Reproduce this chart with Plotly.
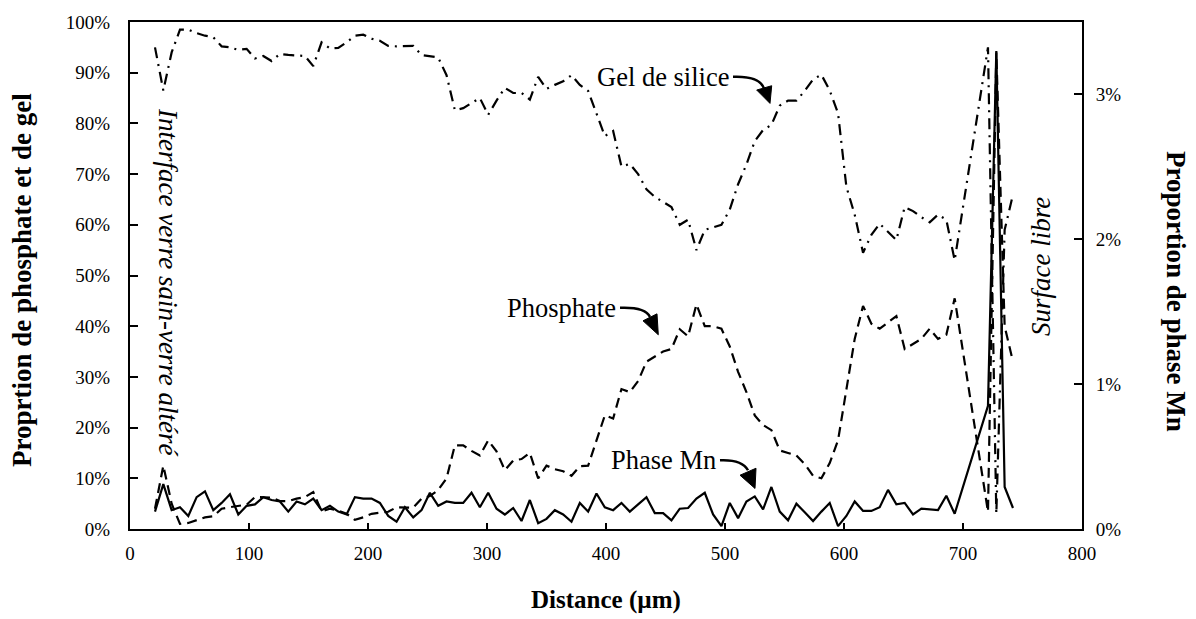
import plotly.graph_objects as go

# ---------------- data ----------------
distance_um = [21, 28, 35, 42, 49, 56, 63, 70, 77, 84,
               91, 98, 105, 112, 119, 126, 133, 140, 147, 154,
               161, 168, 175, 182, 189, 196, 203, 210, 217, 224,
               231, 238, 245, 252, 259, 266, 273, 280, 287, 294,
               301, 308, 315, 322, 329, 336, 343, 350, 357, 364,
               371, 378, 385, 392, 399, 406, 413, 420, 427, 434,
               441, 448, 455, 462, 469, 476, 483, 490, 497, 504,
               511, 518, 525, 532, 539, 546, 553, 560, 567, 574,
               581, 588, 595, 602, 609, 616, 623, 630, 637, 644,
               651, 658, 665, 672, 679, 686, 693,
               721, 728, 735, 742]

gel_silice = [95, 86.5, 94, 98.5, 98.5, 97.8, 97.3, 97, 95.2, 95,
              94.5, 94.7, 92.8, 93.3, 92.3, 93.7, 93.5, 93.4, 93.3, 91.3,
              96, 94.8, 94.9, 96, 97.3, 97.5, 96.7, 96.3, 95.3, 95.2,
              95.2, 95.3, 93.5, 93.3, 93, 89.5, 82.6, 83, 84, 85,
              81.7, 84.5, 87, 86, 86, 84.7, 89.2, 86.8, 87.6, 88.3,
              89.5, 87.6, 86.4, 82, 77.5, 78.5, 71.5, 72, 70, 67,
              65.5, 64.5, 63.5, 60, 61, 55, 59, 59.5, 60, 63,
              68, 71.9, 76.5, 78.7, 79.7, 83.5, 84.5, 84.5, 86.4, 88.7,
              89.6, 86.5, 82, 67.5, 62, 54.5, 58, 60.2, 58.5, 57,
              63.5, 62.7, 61.5, 60.5, 62, 61, 53,
              95, 3, 59, 66]

phosphate = [4, 12.5, 5, 1, 1.2, 1.8, 2.3, 2.5, 4, 4.3,
             4.5, 4.8, 6.3, 6.3, 6.2, 5.5, 5.5, 6, 6.3, 7.3,
             3.5, 4, 3.6, 3, 1.8, 2.3, 3, 3.2, 3.4, 4.3,
             4.2, 4.2, 6, 6.5, 7.7, 10, 16.5, 16.5, 15.4, 14.5,
             17.5, 15.3, 11.6, 13.5, 13.8, 15, 10, 12.5, 11.8, 11.4,
             10.5, 12.4, 12.5, 17.5, 22.4, 21.8, 27.6, 27, 29.2, 33,
             34, 35, 35.5, 39.4, 38, 44.3, 40, 40, 39.5, 36,
             31, 27, 22.4, 20.5, 19.5, 15.5, 15, 14.5, 12.8, 10.5,
             10, 13, 17.5, 27.5, 37.5, 44, 40.5, 39.5, 40.8, 42,
             35.5, 36.5, 37.5, 39.5, 37.5, 38.3, 45.5,
             3.4, 94, 40, 33]

phase_mn = [0.12, 0.31, 0.13, 0.15, 0.09, 0.22, 0.26, 0.13, 0.18, 0.24,
            0.10, 0.16, 0.17, 0.22, 0.20, 0.19, 0.12, 0.19, 0.17, 0.21,
            0.13, 0.16, 0.12, 0.10, 0.22, 0.21, 0.21, 0.18, 0.09, 0.05,
            0.15, 0.08, 0.13, 0.25, 0.16, 0.19, 0.18, 0.18, 0.25, 0.15,
            0.25, 0.14, 0.10, 0.145, 0.055, 0.20, 0.04, 0.07, 0.13, 0.10,
            0.05, 0.18, 0.12, 0.245, 0.15, 0.13, 0.18, 0.12, 0.17, 0.22,
            0.11, 0.11, 0.06, 0.14, 0.145, 0.21, 0.25, 0.10, 0.02, 0.18,
            0.075, 0.19, 0.225, 0.135, 0.29, 0.12, 0.06, 0.175, 0.115, 0.055,
            0.12, 0.18, 0.02, 0.09, 0.19, 0.125, 0.125, 0.15, 0.27, 0.17,
            0.18, 0.10, 0.14, 0.135, 0.13, 0.23, 0.105,
            0.85, 3.30, 0.29, 0.145]

x_ticks = [0, 100, 200, 300, 400, 500, 600, 700, 800]
y_left_ticks = [0, 10, 20, 30, 40, 50, 60, 70, 80, 90, 100]
y_left_labels = ["0%", "10%", "20%", "30%", "40%", "50%", "60%", "70%", "80%", "90%", "100%"]
y_right_ticks = [0, 1, 2, 3]
y_right_labels = ["0%", "1%", "2%", "3%"]

# ---------------- layout geometry (pixels) ----------------
W_FIG, H_FIG = 1196, 619
L, R, T, B = 130, 1082, 20, 529
PW, PH = R - L, B - T


def px(x):
    return (x - L) / PW


def py(y):
    return (B - y) / PH


FONT = "Liberation Serif"

fig = go.Figure()
fig.add_trace(go.Scatter(x=distance_um, y=gel_silice, mode="lines", name="Gel de silice",
                         line=dict(color="black", width=2.2, dash="11px,6px,2px,6px")))
fig.add_trace(go.Scatter(x=distance_um, y=phosphate, mode="lines", name="Phosphate",
                         line=dict(color="black", width=2.2, dash="10px,6px")))
fig.add_trace(go.Scatter(x=distance_um, y=phase_mn, mode="lines", name="Phase Mn", yaxis="y2",
                         line=dict(color="black", width=2.2)))

axis_common = dict(showline=True, linecolor="black", linewidth=2, showgrid=False, zeroline=False,
                   ticks="inside", tickcolor="black", tickwidth=2,
                   tickfont=dict(family=FONT, size=19, color="black"))

fig.update_layout(
    width=W_FIG, height=H_FIG,
    margin=dict(l=L, r=W_FIG - R, t=T, b=H_FIG - B),
    paper_bgcolor="white", plot_bgcolor="white",
    showlegend=False,
    xaxis=dict(range=[0, 800], tickmode="array", tickvals=x_ticks, ticklen=6, mirror=True,
               ticklabelstandoff=6, **axis_common),
    yaxis=dict(range=[0, 100], tickmode="array", tickvals=y_left_ticks, ticktext=y_left_labels,
               ticklen=8, ticklabelstandoff=14, **axis_common),
    yaxis2=dict(range=[0, 3.5], tickmode="array", tickvals=y_right_ticks, ticktext=y_right_labels,
                ticklen=8, overlaying="y", side="right", ticklabelstandoff=8, **axis_common),
)

ann = []
bold_side = dict(family=FONT, size=27, color="black")
bold_bottom = dict(family=FONT, size=25, color="black")
ann.append(dict(text="<b>Distance (µm)</b>", x=px(606), y=py(600), xref="paper", yref="paper",
                showarrow=False, xanchor="center", yanchor="middle", font=bold_bottom))
ann.append(dict(text="<b>Proprtion de phosphate et de gel</b>", x=px(22), y=py(279),
                xref="paper", yref="paper", showarrow=False, textangle=-90,
                xanchor="center", yanchor="middle", font=bold_side))
ann.append(dict(text="<b>Proportion de phase Mn</b>", x=px(1176), y=py(290),
                xref="paper", yref="paper", showarrow=False, textangle=90,
                xanchor="center", yanchor="middle", font=bold_side))

lab = dict(family=FONT, size=26.5, color="black")
ann.append(dict(text="Gel de silice", x=px(731), y=py(75), xref="paper", yref="paper",
                showarrow=False, xanchor="right", yanchor="middle", font=lab))
ann.append(dict(text="Phosphate", x=px(618), y=py(307), xref="paper", yref="paper",
                showarrow=False, xanchor="right", yanchor="middle", font=lab))
ann.append(dict(text="Phase Mn", x=px(718), y=py(460), xref="paper", yref="paper",
                showarrow=False, xanchor="right", yanchor="middle", font=lab))

ital = dict(family=FONT, size=27, color="black")
ann.append(dict(text="<i>Interface verre sain-verre altéré</i>", x=px(168), y=py(281),
                xref="paper", yref="paper", showarrow=False, textangle=90,
                xanchor="center", yanchor="middle", font=ital))
ann.append(dict(text="<i>Surface libre</i>", x=px(1041), y=py(266),
                xref="paper", yref="paper", showarrow=False, textangle=-90,
                xanchor="center", yanchor="middle", font=ital))
fig.update_layout(annotations=ann)

# curved arrows (line + filled head), drawn in paper coordinates
arrows = [
    ((733, 75), (760, 74), (764, 87), [(756.7, 88.3), (771.7, 84), (770, 101.7)]),
    ((620, 307), (645, 306), (650, 316), [(643, 320), (657, 313), (658.3, 334)]),
    ((720, 460), (742, 459), (748, 470), [(740, 475), (756, 468), (755, 488.3)]),
]
shapes = []
for (s, c, e, head) in arrows:
    path = f"M {px(s[0])},{py(s[1])} Q {px(c[0])},{py(c[1])} {px(e[0])},{py(e[1])}"
    shapes.append(dict(type="path", path=path, xref="paper", yref="paper",
                       line=dict(color="black", width=2.5)))
    hp = "M " + " L ".join(f"{px(a)},{py(b)}" for a, b in head) + " Z"
    shapes.append(dict(type="path", path=hp, xref="paper", yref="paper",
                       line=dict(color="black", width=1), fillcolor="black"))
fig.update_layout(shapes=shapes)

fig.write_html("out.html", config={"displayModeBar": False},
               post_script="document.body.style.margin='0';")
